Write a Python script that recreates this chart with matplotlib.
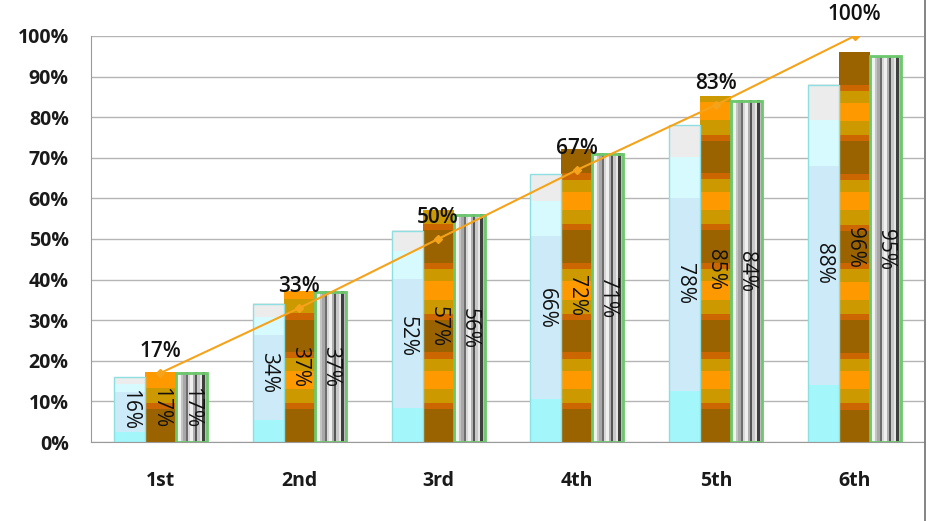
import numpy as np
import matplotlib
matplotlib.use('Agg')
import matplotlib.pyplot as plt
from matplotlib.colors import to_rgb
from matplotlib.lines import Line2D

categories = ['1st', '2nd', '3rd', '4th', '5th', '6th']
series_a = [16, 34, 52, 66, 78, 88]
series_b = [17, 37, 57, 72, 85, 96]
series_c = [17, 37, 56, 71, 84, 95]
line_vals = [17, 33, 50, 67, 83, 100]
ytick_vals = [0, 10, 20, 30, 40, 50, 60, 70, 80, 90, 100]
ytick_labels = [f'{v}%' for v in ytick_vals]

plt.rcParams['font.family'] = ['Open Sans', 'DejaVu Sans']

fig = plt.figure(figsize=(9.3, 5.21), dpi=100)
ax = fig.add_axes([91 / 930, 1 - 442 / 521, (924 - 91) / 930, (442 - 36) / 521])

x = np.arange(len(categories))
w = 0.223

bars_a = ax.bar(x - w, series_a, w, facecolor='none', edgecolor='#8ddfe0', linewidth=1.0, zorder=3)
bars_b = ax.bar(x, series_b, w, facecolor='none', edgecolor='none', linewidth=0, zorder=3)
bars_c = ax.bar(x + w, series_c, w, facecolor='none', edgecolor='#6cc86c', linewidth=2.0, zorder=3)

# textures
seg_a = [(0.0, '#a3f7fb'), (0.16, '#cdeaf9'), (0.77, '#d6fafd'), (0.90, '#ececec')]
stripe_b = [(8.0, '#9a6300'), (1.5, '#cc6600'), (3.5, '#cc9900'), (4.5, '#ff9900'),
            (3.0, '#cc9900'), (1.5, '#cc6600')]
cols_c = ['#d4d4d4', '#f2f2f2', '#c4c4c4', '#a8a8a8', '#6e6e6e', '#d8d8d8', '#f0f0f0',
          '#b0b0b0', '#555555', '#c8c8c8', '#e6e6e6', '#3f3f3f', '#bdbdbd']

for p in bars_a:
    x0, h, bw = p.get_x(), p.get_height(), p.get_width()
    n = 200
    img = np.zeros((n, 1, 3))
    for i in range(n):
        f = (i + 0.5) / n
        c = seg_a[0][1]
        for s, col in seg_a:
            if f >= s:
                c = col
        img[i, 0] = to_rgb(c)
    ax.imshow(img, extent=[x0, x0 + bw, 0, h], origin='lower', aspect='auto',
              interpolation='nearest', zorder=2)

period = sum(s for s, _ in stripe_b)
for p in bars_b:
    x0, h, bw = p.get_x(), p.get_height(), p.get_width()
    n = int(h * 8)
    img = np.zeros((n, 1, 3))
    for i in range(n):
        yv = (i + 0.5) / 8 % period
        acc = 0
        for s, col in stripe_b:
            acc += s
            if yv < acc:
                img[i, 0] = to_rgb(col)
                break
    ax.imshow(img, extent=[x0, x0 + bw, 0, h], origin='lower', aspect='auto',
              interpolation='nearest', zorder=2)

for p in bars_c:
    x0, h, bw = p.get_x(), p.get_height(), p.get_width()
    img = np.array([[to_rgb(c) for c in cols_c]])
    ax.imshow(img, extent=[x0, x0 + bw, 0, h], origin='lower', aspect='auto',
              interpolation='nearest', zorder=2)

# labels inside bars
for bars, vals in ((bars_a, series_a), (bars_b, series_b), (bars_c, series_c)):
    for p, v in zip(bars, vals):
        ax.text(p.get_x() + p.get_width() / 2, v / 2, f'{v}%', rotation=-90,
                ha='center', va='center', fontsize=15, fontweight='medium',
                color='#111111', zorder=5)

# line
ax.plot(x, line_vals, color='#f5a31a', linewidth=1.5, marker='D', markersize=4,
        markerfacecolor='#f5a31a', markeredgecolor='#f5a31a', zorder=6)
for xi, v in zip(x, line_vals):
    ax.annotate(f'{v}%', (xi, v), xytext=(0, 8), textcoords='offset points',
                ha='center', va='bottom', fontsize=15, fontweight='semibold',
                color='#111111', zorder=7, annotation_clip=False)

ax.set_xlim(-0.5, len(categories) - 0.5)
ax.set_ylim(0, 100)
ax.set_yticks(ytick_vals)
ax.set_yticklabels(ytick_labels, fontsize=14, fontweight='bold', color='#1a1a1a')
ax.set_xticks(x)
ax.set_xticklabels(categories, fontsize=14, fontweight='bold', color='#1a1a1a')
ax.tick_params(axis='y', length=0, pad=16)
ax.tick_params(axis='x', length=0, pad=21)
ax.grid(axis='y', color='#b5b5b5', linewidth=1.0, zorder=0)
ax.set_axisbelow(True)
for s in ('top', 'right'):
    ax.spines[s].set_visible(False)
ax.spines['left'].set_color('#9a9a9a')
ax.spines['bottom'].set_color('#9a9a9a')

fig.add_artist(Line2D([924.5 / 930, 924.5 / 930], [0, 1], transform=fig.transFigure,
                      color='#707070', linewidth=1.2))

fig.savefig('out.png', dpi=100, facecolor='white')
